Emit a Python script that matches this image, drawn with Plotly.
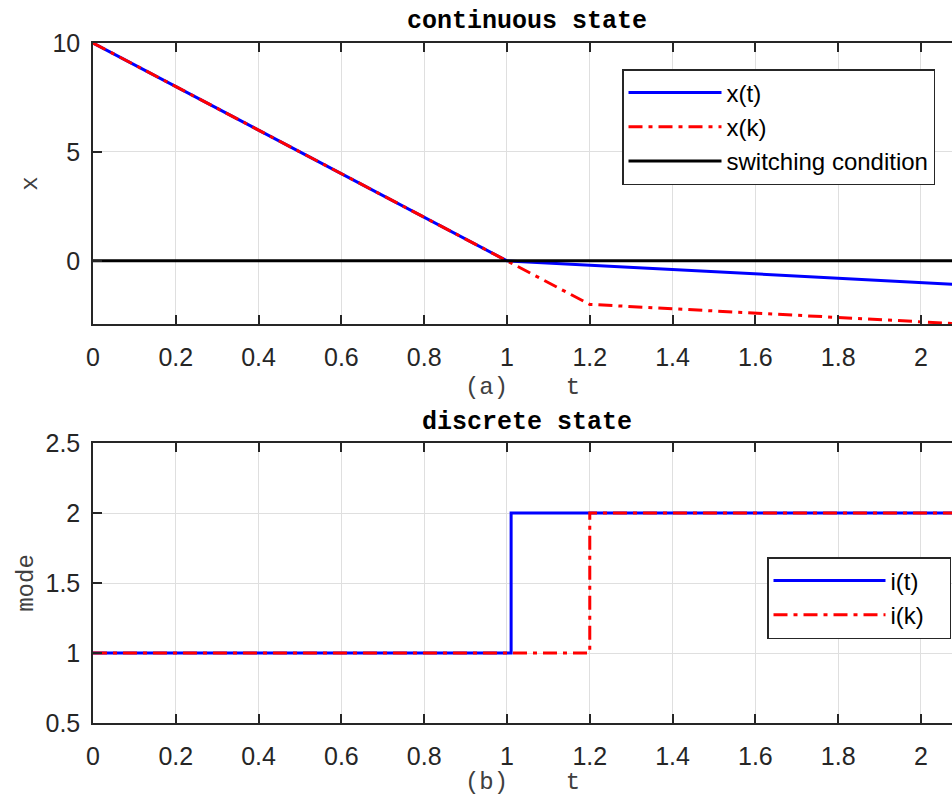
import plotly.graph_objects as go

# ---- data ----
t_cont = [0.0, 1.0, 2.2]
x_cont = [10.0, 0.0, -1.2]

t_disc = [0.0, 0.2, 0.4, 0.6, 0.8, 1.0, 1.2, 1.4, 1.6, 1.8, 2.0, 2.2]
x_disc = [10.0, 8.0, 6.0, 4.0, 2.0, 0.0, -2.0, -2.2, -2.4, -2.6, -2.8, -3.0]

t_switch = [0.0, 2.2]
x_switch = [0.0, 0.0]

t_mode_cont = [0.0, 1.01, 1.01, 2.2]
mode_cont = [1, 1, 2, 2]

t_mode_disc = [0.0, 1.2, 1.2, 2.2]
mode_disc = [1, 1, 2, 2]

x_ticks = [0, 0.2, 0.4, 0.6, 0.8, 1, 1.2, 1.4, 1.6, 1.8, 2]
x_ticklabels = ["0", "0.2", "0.4", "0.6", "0.8", "1", "1.2", "1.4", "1.6", "1.8", "2"]
top_y_ticks = [0, 5, 10]
bot_y_ticks = [0.5, 1, 1.5, 2, 2.5]

W, H = 952, 796
AX = "#262626"
GRID = "#dfdfdf"
SANS = "Liberation Sans, Arial, sans-serif"
MONO = "Liberation Mono, Courier New, monospace"
DASHDOT = "14px,6px,4px,6px"
NB = "\u00a0"

fig = go.Figure()

fig.add_trace(go.Scatter(x=t_cont, y=x_cont, mode="lines", name="x(t)",
                         line=dict(color="#0000ff", width=3), xaxis="x", yaxis="y", legend="legend"))
fig.add_trace(go.Scatter(x=t_disc, y=x_disc, mode="lines", name="x(k)",
                         line=dict(color="#ff0000", width=3, dash=DASHDOT), xaxis="x", yaxis="y", legend="legend"))
fig.add_trace(go.Scatter(x=t_switch, y=x_switch, mode="lines", name="switching condition",
                         line=dict(color="#000000", width=3), xaxis="x", yaxis="y", legend="legend"))

fig.add_trace(go.Scatter(x=t_mode_cont, y=mode_cont, mode="lines", name="i(t)" + NB * 3,
                         line=dict(color="#0000ff", width=3), xaxis="x2", yaxis="y2", legend="legend2"))
fig.add_trace(go.Scatter(x=t_mode_disc, y=mode_disc, mode="lines", name="i(k)" + NB * 3,
                         line=dict(color="#ff0000", width=3, dash=DASHDOT), xaxis="x2", yaxis="y2", legend="legend2"))

xdom = [93 / W, 1.0]
top_dom = [1 - 324 / H, 1 - 43 / H]
bot_dom = [1 - 723 / H, 1 - 443 / H]

def xaxis_cfg(dom_anchor, title):
    return dict(domain=xdom, anchor=dom_anchor, range=[0, 2.075], tickvals=x_ticks, ticktext=x_ticklabels,
                automargin=False,
                showgrid=True, gridcolor=GRID, gridwidth=1, zeroline=False,
                showline=True, linecolor=AX, linewidth=1.5, mirror="ticks",
                ticks="inside", ticklen=9, tickwidth=1.5, tickcolor=AX, ticklabelstandoff=10,
                tickfont=dict(family=SANS, size=25, color=AX),
                title=dict(text=title, font=dict(family=MONO, size=24, color="#404040"), standoff=7))

def yaxis_cfg(dom, anchor, rng, ticks, title, standoff):
    return dict(domain=dom, anchor=anchor, range=rng, tickvals=ticks,
                automargin=False,
                showgrid=True, gridcolor=GRID, gridwidth=1, zeroline=False,
                showline=True, linecolor=AX, linewidth=1.5, mirror=False,
                ticks="inside", ticklen=9, tickwidth=1.5, tickcolor=AX, ticklabelstandoff=6,
                tickfont=dict(family=SANS, size=25, color=AX),
                title=dict(text=title, font=dict(family=MONO, size=24, color="#404040"), standoff=standoff))

fig.update_layout(
    width=W, height=H,
    margin=dict(l=0, r=0, t=0, b=0, autoexpand=False),
    paper_bgcolor="white", plot_bgcolor="white",
    xaxis=xaxis_cfg("y", "(a)    t"),
    yaxis=yaxis_cfg(top_dom, "x", [-2.9, 10], top_y_ticks, "x", 8),
    xaxis2=xaxis_cfg("y2", "(b)    t"),
    yaxis2=yaxis_cfg(bot_dom, "x2", [0.5, 2.5], bot_y_ticks, "mode", 5),
    legend=dict(x=622 / W, y=1 - 69 / H, xanchor="left", yanchor="top",
                bgcolor="white", bordercolor=AX, borderwidth=1.5,
                font=dict(family=SANS, size=24, color="#000000"), itemwidth=93, tracegroupgap=0),
    legend2=dict(x=767 / W, y=1 - 557 / H, xanchor="left", yanchor="top",
                 bgcolor="white", bordercolor=AX, borderwidth=1.5,
                 font=dict(family=SANS, size=24, color="#000000"), itemwidth=112, tracegroupgap=0),
    showlegend=True,
    annotations=[
        dict(text="<b>continuous state</b>", x=527 / W, y=1 - 22 / H, xref="paper", yref="paper",
             xanchor="center", yanchor="middle", showarrow=False,
             font=dict(family=MONO, size=25, color="#000000")),
        dict(text="<b>discrete state</b>", x=527 / W, y=1 - 422 / H, xref="paper", yref="paper",
             xanchor="center", yanchor="middle", showarrow=False,
             font=dict(family=MONO, size=25, color="#000000")),
    ],
)

fig.write_html("out.html", config={"displayModeBar": False},
               post_script="document.body.style.margin='0';document.body.style.overflow='hidden';")
